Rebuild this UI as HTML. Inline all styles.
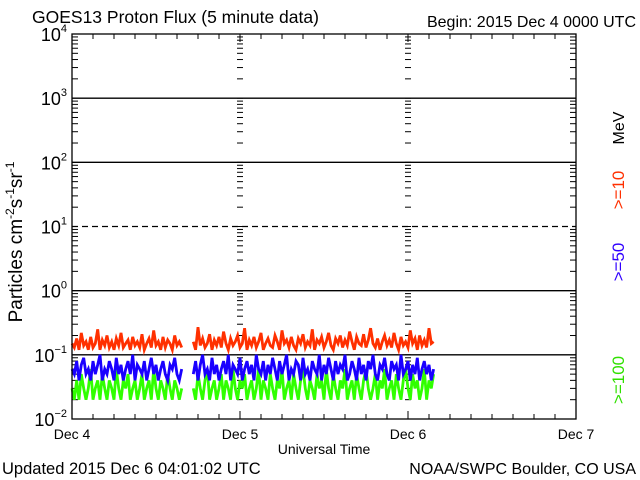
<!DOCTYPE html>
<html><head><meta charset="utf-8"><style>
body{margin:0;background:#fff}
svg{display:block;font-family:"Liberation Sans",sans-serif}
</style></head><body>
<svg id="chart" width="640" height="480" viewBox="0 0 640 480">
<text x="32" y="23" font-size="17.5">GOES13 Proton Flux (5 minute data)</text>
<text x="636" y="27" font-size="16" text-anchor="end">Begin: 2015 Dec 4 0000 UTC</text>
<text x="2" y="474" font-size="16.5">Updated 2015 Dec  6 04:01:02 UTC</text>
<text x="636" y="474" font-size="16" text-anchor="end">NOAA/SWPC Boulder, CO USA</text>
<text x="324" y="454" font-size="14" text-anchor="middle">Universal Time</text>
<text transform="translate(22,242) rotate(-90)" font-size="19" text-anchor="middle">Particles cm<tspan font-size="12" dy="-8">-2</tspan><tspan dy="8">s</tspan><tspan font-size="12" dy="-8">-1</tspan><tspan dy="8">sr</tspan><tspan font-size="12" dy="-8">-1</tspan></text>
<text transform="translate(624,128) rotate(-90)" font-size="16" text-anchor="middle">MeV</text>
<text transform="translate(624,190) rotate(-90)" font-size="17" text-anchor="middle" fill="#ff3000">&gt;=10</text>
<text transform="translate(624,262) rotate(-90)" font-size="17" text-anchor="middle" fill="#3000ff">&gt;=50</text>
<text transform="translate(624,380) rotate(-90)" font-size="17" text-anchor="middle" fill="#30e000">&gt;=100</text>
<g id="g"></g>
</svg>
<script>
const dayLabels=["Dec 4","Dec 5","Dec 6","Dec 7"];
const decades=[-2,-1,0,1,2,3,4];
const red1=[15,13,18,12,22,14,16,12,19,13,15,25,12,17,14,20,13,16,12,18,14,22,13,15,17,12,19,14,16,13,21,12,15,18,13,24,14,16,12,19,13,17,15,12,20,14,16,13];
const red2=[16,12,27,14,18,13,15,21,12,17,14,19,13,23,15,12,18,14,16,20,13,15,26,12,17,14,19,13,16,22,12,15,18,14,13,20,16,12,24,15,17,13,19,14,12,18,15,21,13,16,14,25,12,17,15,19,13,16,22,14,12,18,15,20,13,17,14,23,16,12,19,15,14,21,13,17,26,15,13,18,12,16,20,14,17,13,22,15,12,19,14,16,13,24,15,18,12,20,14,17,13,26,15,16];
const blue1=[6,5,8,4,7,9,5,6,4,8,5,7,10,4,6,5,8,6,4,9,5,7,4,6,8,5,10,4,7,6,5,8,4,6,9,5,7,4,6,8,5,4,7,6,9,5,4,6];
const blue2=[5,8,4,7,10,5,6,4,9,5,7,4,6,8,5,10,4,7,6,5,9,4,6,8,5,7,4,10,6,5,8,4,7,5,9,6,4,8,5,7,10,4,6,5,8,7,4,9,5,6,4,8,6,5,10,4,7,5,9,6,4,8,5,7,6,10,4,5,8,6,4,9,5,7,4,8,6,10,5,4,7,6,9,5,4,8,6,7,4,10,5,6,8,4,7,5,9,4,6,8,5,7,4,6];
const green1=[3,2,4,2,5,3,2,3,6,2,3,4,2,5,3,2,4,3,2,6,3,2,4,3,5,2,3,4,2,3,5,2,3,4,2,6,3,2,4,3,2,5,3,2,4,3,2,3];
const green2=[3,2,5,3,2,4,6,2,3,4,2,3,5,2,4,3,2,6,3,2,4,3,5,2,3,4,2,3,6,2,4,3,2,5,3,2,4,3,6,2,3,4,2,5,3,2,4,6,3,2,4,3,2,5,3,4,2,6,3,2,5,3,2,4,3,6,2,3,4,2,5,3,2,4,6,3,2,3,5,2,4,3,6,2,3,4,2,5,3,2,4,6,3,2,5,3,4,2,3,6,2,4,3,5];
const seg1StartH=0, seg2StartH=17.33, stepH=1/3;
const L=72,R=576,T=34,B=419;
const X=h=>L+(R-L)*h/72;
const Y=v=>B-(Math.log10(v)+2)*(B-T)/6;
const NS="http://www.w3.org/2000/svg",g=document.getElementById('g');
function el(t,a){const e=document.createElementNS(NS,t);for(const k in a)e.setAttribute(k,a[k]);g.appendChild(e);return e;}
decades.forEach(d=>{if(d===-2||d===4)return;const y=Y(Math.pow(10,d));
 const l=el('line',{x1:L,x2:R,y1:y,y2:y,stroke:'#000','stroke-width':1.3});
 if(d===1)l.setAttribute('stroke-dasharray','6,4');
 });
for(let d=-2;d<4;d++){for(let m=2;m<=9;m++){const y=Y(m*Math.pow(10,d));
 [[L,L+6],[R-6,R],[X(24)-3,X(24)+3],[X(48)-3,X(48)+3]].forEach(p=>{const t=el('line',{x1:p[0],x2:p[1],y1:y,y2:y,stroke:'#000'});
 });}}
decades.forEach(d=>{const y=Y(Math.pow(10,d));
 [X(24),X(48)].forEach(x=>{const t=el('line',{x1:x-3,x2:x+3,y1:y,y2:y,stroke:'#000'});});
 const tx=el('text',{x:L-5,y:y+7,'font-size':18,'text-anchor':'end'});
 
 tx.innerHTML='10<tspan font-size="11" dy="-9">'+(d<0?'\u2212'+(-d):d)+'</tspan>';});
for(let h=0;h<=72;h+=3){const x=X(h),len=h%24===0?8:5;
 const a=el('line',{x1:x,x2:x,y1:B,y2:B-len,stroke:'#000'});
 const b=el('line',{x1:x,x2:x,y1:T,y2:T+len,stroke:'#000'});}
dayLabels.forEach((s,i)=>{const t=el('text',{x:X(24*i),y:439,'font-size':14,'text-anchor':'middle'});t.textContent=s;
 });
function series(arr,start,color,name){const pts=arr.map((v,i)=>X(start+i*stepH).toFixed(1)+','+Y(v/100).toFixed(1)).join(' ');
 const p=el('polyline',{points:pts,fill:'none',stroke:color,'stroke-width':2.8});
 }
series(green1,seg1StartH,'#30ff00','series-100mev-a');series(green2,seg2StartH,'#30ff00','series-100mev-b');
series(blue1,seg1StartH,'#1a00ff','series-50mev-a');series(blue2,seg2StartH,'#1a00ff','series-50mev-b');
series(red1,seg1StartH,'#ff3000','series-10mev-a');series(red2,seg2StartH,'#ff3000','series-10mev-b');
const f=el('rect',{x:L,y:T,width:R-L,height:B-T,fill:'none',stroke:'#000','stroke-width':1.3});

</script>
</body></html>
